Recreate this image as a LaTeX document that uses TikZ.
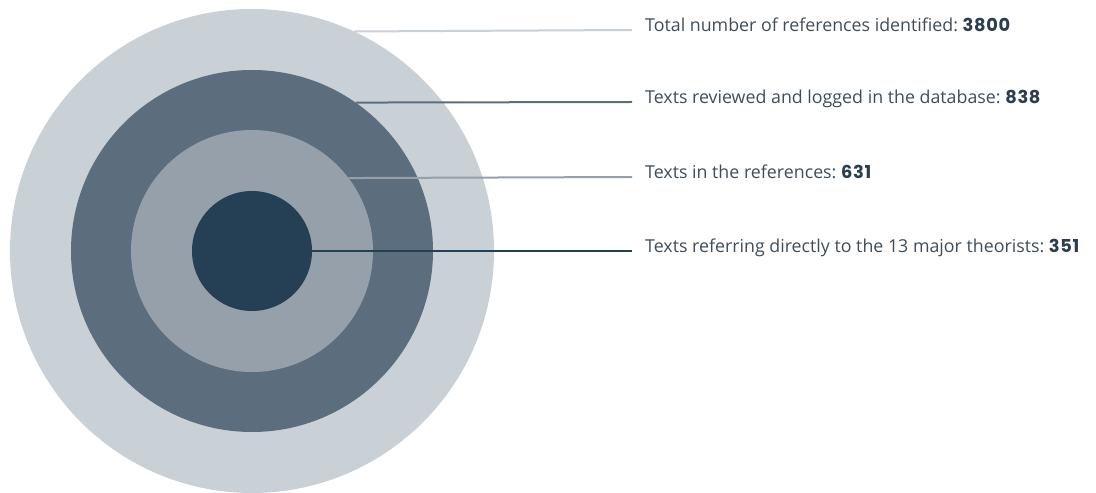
\documentclass[tikz,border=0pt]{standalone}
\usepackage{fontspec}
\setmainfont{Open Sans}
\newfontfamily\numfont{Poppins}[LetterSpace=4]
\definecolor{ringA}{HTML}{C9D0D6}
\definecolor{ringB}{HTML}{5C6D7D}
\definecolor{ringC}{HTML}{95A0AA}
\definecolor{ringD}{HTML}{253F55}
\definecolor{txt}{HTML}{3F4D5A}
\definecolor{num}{HTML}{2B3D4F}
\newcommand{\numval}[1]{\textcolor{num}{\numfont\bfseries #1}}
\begin{document}
\begin{tikzpicture}[x=1pt,y=1pt,
  ring/.style={circle,draw=none,inner sep=0pt,minimum size=#1},
  lead/.style={line width=2pt},
  lab/.style={anchor=base west,inner sep=0pt,text=txt,font=\fontsize{17.8}{20}\selectfont}]
\useasboundingbox (0,0) rectangle (1096,493);
\coordinate (c) at (252,242);
\node[ring=484pt,fill=ringA] (r1) at (c) {};
\node[ring=362pt,fill=ringB] (r2) at (c) {};
\node[ring=242pt,fill=ringC] (r3) at (c) {};
\node[ring=120pt,fill=ringD] (r4) at (c) {};
\coordinate (e1) at (632,463);
\coordinate (e2) at (632,391);
\coordinate (e3) at (632,316);
\coordinate (e4) at (632,242);
\draw[lead,draw=ringA] (r1.65.9) -- (e1);
\draw[lead,draw=ringB] (r2.55.4) -- (e2);
\draw[lead,draw=ringC] (r3.37.7) -- (e3);
\draw[lead,draw=ringD] (r4.0) -- (e4);
\node[lab] (t1) at (645,461) {Total number of references identified:\ \numval{3800}};
\node[lab] (t2) at (645,389) {Texts reviewed and logged in the database:\ \numval{838}};
\node[lab] (t3) at (645,314) {Texts in the references:\ \numval{631}};
\node[lab] (t4) at (645,240) {Texts referring directly to the 13 major theorists:\ \numval{351}};
\end{tikzpicture}
\end{document}
